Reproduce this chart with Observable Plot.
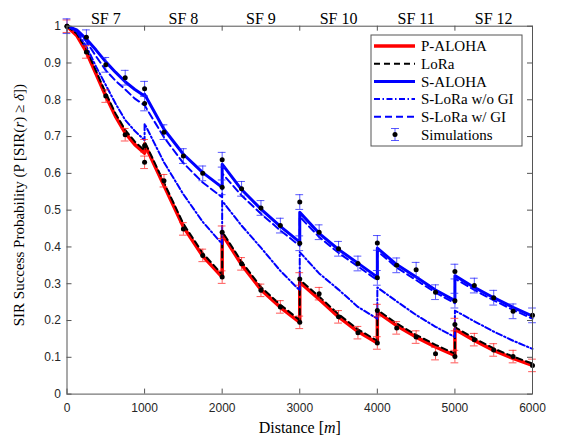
<!DOCTYPE html>
<html><head><meta charset="utf-8">
<script src="https://cdn.jsdelivr.net/npm/d3@7"></script>
<script src="https://cdn.jsdelivr.net/npm/@observablehq/plot@0.6"></script>
<style>body{margin:0;background:#fff}#chart{width:561px;height:441px}</style>
</head><body><div id="chart"></div>
<script>
// ---- data ----
const distance = [0,125,250,375,500,625,750,875,1000, 1000,1250,1500,1750,2000, 2000,2250,2500,2750,3000, 3000,3250,3500,3750,4000, 4000,4250,4500,4750,5000, 5000,5250,5500,5750,6000];
const pAloha = [1,0.975,0.93,0.87,0.81,0.755,0.71,0.678,0.655, 0.68,0.567,0.455,0.375,0.318, 0.435,0.352,0.284,0.236,0.195, 0.304,0.258,0.21,0.17,0.139, 0.223,0.186,0.155,0.128,0.105, 0.176,0.146,0.119,0.097,0.078];
const lora = [1,0.98,0.938,0.878,0.818,0.763,0.718,0.686,0.662, 0.687,0.575,0.463,0.383,0.325, 0.442,0.36,0.291,0.243,0.201, 0.311,0.265,0.217,0.176,0.145, 0.229,0.192,0.161,0.134,0.11, 0.182,0.152,0.124,0.102,0.083];
const sAloha = [1,0.99,0.965,0.935,0.903,0.875,0.849,0.828,0.81, 0.815,0.72,0.652,0.602,0.562, 0.625,0.556,0.503,0.456,0.413, 0.494,0.437,0.393,0.356,0.318, 0.397,0.352,0.318,0.283,0.254, 0.322,0.29,0.262,0.236,0.212];
const sLoraNoGI = [1,0.985,0.945,0.89,0.84,0.79,0.745,0.715,0.69, 0.735,0.63,0.543,0.468,0.408, 0.525,0.458,0.398,0.335,0.282, 0.386,0.328,0.284,0.237,0.205, 0.29,0.252,0.215,0.183,0.155, 0.227,0.198,0.17,0.145,0.123];
const sLoraGI = [1,0.99,0.958,0.918,0.88,0.852,0.828,0.803,0.785, 0.785,0.698,0.628,0.575,0.535, 0.60,0.54,0.49,0.445,0.403, 0.482,0.427,0.384,0.347,0.31, 0.389,0.344,0.31,0.276,0.247, 0.314,0.283,0.255,0.229,0.205];

const simDist = [0,250,500,750,1000,1000,1250,1500,1750,2000,2000,2250,2500,2750,3000,3000,3250,3500,3750,4000,4000,4250,4500,4750,5000,5000,5250,5500,5750,6000];
const simP = [1,0.93,0.81,0.705,0.675,0.63,0.58,0.449,0.377,0.44,0.318,0.354,0.282,0.237,0.313,0.195,0.273,0.21,0.167,0.227,0.139,0.18,0.155,0.11,0.189,0.102,0.148,0.12,0.102,0.078];
const simS = [1,0.97,0.895,0.86,0.83,0.79,0.712,0.647,0.60,0.637,0.562,0.558,0.506,0.458,0.522,0.41,0.44,0.395,0.355,0.411,0.316,0.35,0.338,0.277,0.333,0.254,0.295,0.262,0.225,0.214];
const errP = 0.017;
const errS = 0.02;

const xTicks = [0,1000,2000,3000,4000,5000,6000];
const yTicks = [0,0.1,0.2,0.3,0.4,0.5,0.6,0.7,0.8,0.9,1];
const sfLabels = ["SF 7","SF 8","SF 9","SF 10","SF 11","SF 12"];
const sfCenters = [500,1500,2500,3500,4500,5500];
const legendNames = ["P-ALOHA","LoRa","S-ALOHA","S-LoRa w/o GI","S-LoRa w/ GI","Simulations"];

// ---- layout ----
const W = 561, H = 441, mL = 66.5, mR = 29, mT = 25.7, mB = 47.4;
const innerW = W - mL - mR, innerH = H - mT - mB;
const SERIF = "'Liberation Serif','Times New Roman',serif";
const SANS = "'Liberation Sans',Arial,Helvetica,sans-serif";
const AX = "#555";
const DASHDOT = "6,2.5,1.5,2.5";

const series = vals => distance.map((d, i) => ({x: d, y: vals[i]}));
const sims = vals => simDist.map((d, i) => ({x: d, y: vals[i]}));
const capHalf = 50;

function errMarks(data, err, color) {
  return [
    Plot.ruleX(data, {x: "x", y1: d => d.y - err, y2: d => d.y + err, stroke: color, strokeWidth: 1, strokeOpacity: 0.75}),
    Plot.ruleY(data, {y: d => d.y - err, x1: d => d.x - capHalf, x2: d => d.x + capHalf, stroke: color, strokeWidth: 1, strokeOpacity: 0.75}),
    Plot.ruleY(data, {y: d => d.y + err, x1: d => d.x - capHalf, x2: d => d.x + capHalf, stroke: color, strokeWidth: 1, strokeOpacity: 0.75})
  ];
}

const yLabel = "SIR Success Probability (P [SIR(r) \u2265 \u03b4])";
const xLabel = "Distance [m]";

const plot = Plot.plot({
  width: W, height: H,
  marginLeft: mL, marginRight: mR, marginTop: mT, marginBottom: mB,
  x: {domain: [0, 6000]},
  y: {domain: [0, 1]},
  style: {background: "white", fontFamily: SANS},
  marks: [
    Plot.line(series(pAloha), {x: "x", y: "y", stroke: "#ff0000", strokeWidth: 3.5}),
    Plot.line(series(lora), {x: "x", y: "y", stroke: "#000", strokeWidth: 2, strokeDasharray: "6,4"}),
    Plot.line(series(sAloha), {x: "x", y: "y", stroke: "#0000ff", strokeWidth: 3}),
    Plot.line(series(sLoraNoGI), {x: "x", y: "y", stroke: "#0000ff", strokeWidth: 2, strokeDasharray: DASHDOT}),
    Plot.line(series(sLoraGI), {x: "x", y: "y", stroke: "#0000ff", strokeWidth: 2, strokeDasharray: "7,4"}),
    ...errMarks(sims(simP), errP, "#ff2020"),
    ...errMarks(sims(simS), errS, "#2020ff"),
    Plot.dot(sims(simP), {x: "x", y: "y", r: 2.5, fill: "#000"}),
    Plot.dot(sims(simS), {x: "x", y: "y", r: 2.5, fill: "#000"}),
    Plot.frame({stroke: AX, strokeWidth: 1}),
    Plot.tickX(xTicks, {x: d => d, insetTop: innerH - 5, stroke: AX}),
    Plot.tickX(xTicks, {x: d => d, insetBottom: innerH - 5, stroke: AX}),
    Plot.tickY(yTicks, {y: d => d, insetRight: innerW - 5, stroke: AX}),
    Plot.tickY(yTicks, {y: d => d, insetLeft: innerW - 5, stroke: AX}),
    Plot.axisX({ticks: xTicks, tickSize: 0, tickPadding: 9, fontSize: 12, label: null, tickFormat: d => String(d), fill: "#262626"}),
    Plot.axisY({ticks: yTicks, tickSize: 0, tickPadding: 6, fontSize: 12, label: null, tickFormat: d => String(+d.toFixed(1)), fill: "#262626"}),
    Plot.text(sfLabels, {x: (d, i) => sfCenters[i], frameAnchor: "top", dy: -14, fontFamily: SERIF, fontSize: 16, fill: "#000"}),
    Plot.text([yLabel], {frameAnchor: "left", textAnchor: "middle", dx: -48, dy: -5, rotate: -90, fontFamily: SERIF, fontSize: 15, fill: "#000"}),
    Plot.text([xLabel], {frameAnchor: "bottom", textAnchor: "middle", dy: 39, fontFamily: SERIF, fontSize: 16, fill: "#000"})
  ]
});
document.getElementById("chart").appendChild(plot);

// italic parts of labels
const svg = d3.select(plot);
svg.selectAll("text").each(function() {
  const t = this.textContent;
  const sel = d3.select(this);
  let parts = null;
  if (t === yLabel) parts = [["SIR Success Probability (P [SIR(", 0], ["r", 1], [") \u2265 ", 0], ["\u03b4", 1], ["])", 0]];
  else if (t === xLabel) parts = [["Distance [", 0], ["m", 1], ["]", 0]];
  if (parts) {
    sel.text(null);
    parts.forEach(([s, it]) => sel.append("tspan").attr("font-style", it ? "italic" : null).text(s));
  }
});

// legend
const lg = svg.append("g").attr("font-family", SERIF).attr("font-size", 15).attr("text-anchor", "start");
lg.append("rect").attr("x", 371).attr("y", 35).attr("width", 151).attr("height", 111)
  .attr("fill", "white").attr("stroke", AX).attr("stroke-width", 1);
const styles = [
  {stroke: "#ff0000", w: 3.5, dash: null},
  {stroke: "#000", w: 2, dash: "6,4"},
  {stroke: "#0000ff", w: 3, dash: null},
  {stroke: "#0000ff", w: 2, dash: DASHDOT},
  {stroke: "#0000ff", w: 2, dash: "7,4"},
  null
];
legendNames.forEach((name, i) => {
  const cy = 46 + i * 17.7;
  const s = styles[i];
  if (s) {
    lg.append("line").attr("x1", 374).attr("x2", 415).attr("y1", cy).attr("y2", cy)
      .attr("stroke", s.stroke).attr("stroke-width", s.w).attr("stroke-dasharray", s.dash);
  } else {
    lg.append("line").attr("x1", 395).attr("x2", 395).attr("y1", cy - 6).attr("y2", cy + 6).attr("stroke", "#2020ff").attr("stroke-opacity", 0.75);
    lg.append("line").attr("x1", 391).attr("x2", 399).attr("y1", cy - 6).attr("y2", cy - 6).attr("stroke", "#2020ff").attr("stroke-opacity", 0.75);
    lg.append("line").attr("x1", 391).attr("x2", 399).attr("y1", cy + 6).attr("y2", cy + 6).attr("stroke", "#2020ff").attr("stroke-opacity", 0.75);
    lg.append("circle").attr("cx", 395).attr("cy", cy).attr("r", 2.5).attr("fill", "#000");
  }
  lg.append("text").attr("x", 421).attr("y", cy).attr("dy", "0.35em").attr("fill", "#000").text(name);
});
</script>
</body></html>
